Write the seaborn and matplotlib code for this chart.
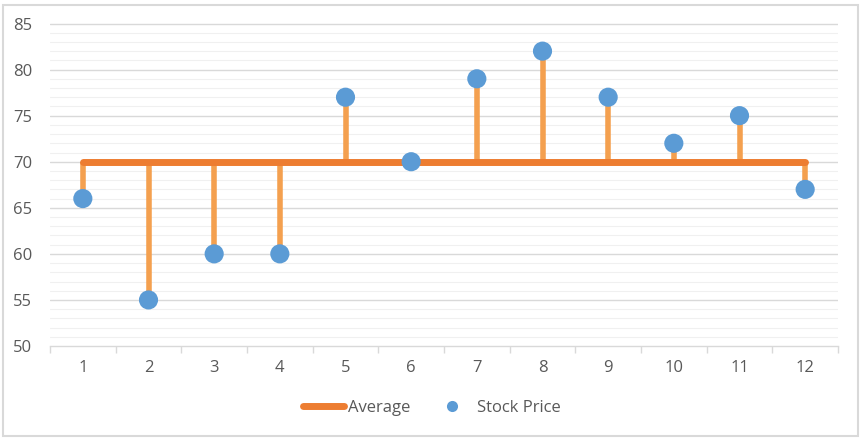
import matplotlib
matplotlib.use("Agg")
import matplotlib.pyplot as plt
from matplotlib.patches import Rectangle
from matplotlib.lines import Line2D
import seaborn as sns
import pandas as pd
import numpy as np

# Data
days = [1, 2, 3, 4, 5, 6, 7, 8, 9, 10, 11, 12]
stock_price = [66, 55, 60, 60, 77, 70, 79, 82, 77, 72, 75, 67]
average = [70] * 12
y_ticks = [50, 55, 60, 65, 70, 75, 80, 85]

df = pd.DataFrame({"day": days, "price": stock_price, "avg": average})

sns.set_theme(style="white")
plt.rcParams["font.family"] = ["Open Sans", "DejaVu Sans"]

fig = plt.figure(figsize=(8.63, 4.40), dpi=100)
ax = fig.add_axes([50 / 863, 1 - 346 / 440, (838 - 50) / 863, (346 - 23.5) / 440])

grid_c = "#D9D9D9"
minor_c = "#F0F0F0"
text_c = "#595959"
orange = "#ED7D31"
stem_c = "#F4A04F"
blue = "#5B9BD5"

# Minor gridlines (every 1)
for v in range(50, 86):
    if v % 5 != 0:
        ax.axhline(v, color=minor_c, lw=0.8, zorder=0)
for v in y_ticks[1:]:
    ax.axhline(v, color=grid_c, lw=1.0, zorder=0.5)

# Stems from average to price
ax.vlines(df["day"], df["avg"], df["price"], color=stem_c, lw=4.0, zorder=2)

# Average line
sns.lineplot(data=df, x="day", y="avg", ax=ax, color=orange, lw=5,
             solid_capstyle="round", zorder=3, legend=False)
# Stock price markers
sns.scatterplot(data=df, x="day", y="price", ax=ax, color=blue, s=190,
                edgecolor="none", zorder=4, legend=False)

ax.set_xlim(0.5, 12.5)
ax.set_ylim(50, 85)
ax.set_yticks(y_ticks)
ax.set_yticklabels([str(v) for v in y_ticks])
ax.set_xticks(days)
ax.set_xticklabels([str(d) for d in days])
ax.set_xlabel("")
ax.set_ylabel("")
for s in ["top", "right", "left"]:
    ax.spines[s].set_visible(False)
ax.spines["bottom"].set_color(grid_c)
ax.spines["bottom"].set_linewidth(1.0)
ax.tick_params(axis="y", length=0, pad=13, labelsize=12, labelcolor=text_c)
ax.tick_params(axis="x", length=0, pad=10, labelsize=12, labelcolor=text_c)

# Category boundary ticks
ax.set_xticks(np.arange(0.5, 13, 1.0), minor=True)
ax.tick_params(axis="x", which="minor", length=5, color=grid_c, width=1.0, bottom=True)

# Legend
handles = [
    Line2D([0], [0], color=orange, lw=5, solid_capstyle="round"),
    Line2D([0], [0], marker="o", color="none", markerfacecolor=blue,
           markeredgecolor="none", markersize=8),
]
fig.legend(handles, ["Average", "Stock Price"], loc="center",
           bbox_to_anchor=(0.5, 1 - 408 / 440), ncol=2, frameon=False,
           fontsize=12, labelcolor=text_c, handlelength=2.5, columnspacing=1.3,
           handletextpad=0.2)

# Outer border
fig.patches.append(Rectangle((3 / 863, 4 / 440), 855 / 863, 431 / 440,
                             transform=fig.transFigure, fill=False,
                             edgecolor=grid_c, lw=1.5))

fig.savefig("out.png", dpi=100)
